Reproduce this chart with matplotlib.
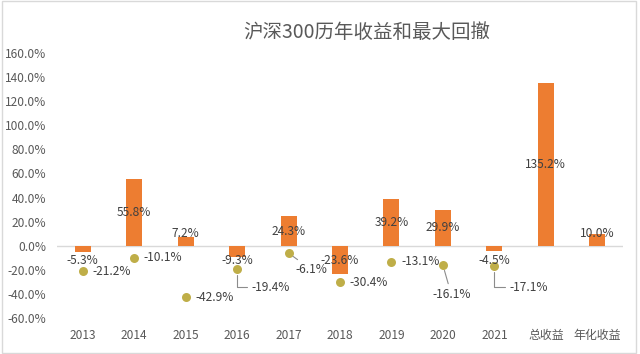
import matplotlib
matplotlib.use("Agg")
import matplotlib.pyplot as plt
from matplotlib.patches import Rectangle
import numpy as np

plt.rcParams['font.family'] = ['Noto Sans CJK SC', 'DejaVu Sans']

categories = ['2013', '2014', '2015', '2016', '2017', '2018', '2019', '2020', '2021', '总收益', '年化收益']
returns = [-5.3, 55.8, 7.2, -9.3, 24.3, -23.6, 39.2, 29.9, -4.5, 135.2, 10.0]
drawdowns = [-21.2, -10.1, -42.9, -19.4, -6.1, -30.4, -13.1, -16.1, -17.1]
yticks = [-60, -40, -20, 0, 20, 40, 60, 80, 100, 120, 140, 160]

bar_color = '#ED7D31'
dot_color = '#BFAE48'
text_color = '#404040'
tick_color = '#595959'

fig = plt.figure(figsize=(6.4, 3.54), dpi=100)
fig.patch.set_facecolor('white')
fig.add_artist(Rectangle((0.003, 0.004), 0.990, 0.992, transform=fig.transFigure,
                         fill=False, edgecolor='#D9D9D9', linewidth=1.0))

ax = fig.add_axes([57/640, (354-318)/354, (623-57)/640, (318-53)/354])
x = np.arange(len(categories))
ax.bar(x, returns, width=0.31, color=bar_color, zorder=2)
ax.axhline(0, color='#D9D9D9', linewidth=1.0, zorder=1)

# bar labels
for xi, v in zip(x, returns):
    pos = max(v / 2, 10.5) if v >= 0 else -12.5
    ax.text(xi, pos, f'{v:.1f}%', ha='center', va='center', fontsize=8.6,
            color=text_color, zorder=4)

# drawdown dots
xd = x[:len(drawdowns)]
ax.scatter(xd, drawdowns, s=42, color=dot_color, zorder=3, linewidths=0)

# label offsets in points (dx, dy, ha, leader)
offsets = {
    3: (10, -13, 'left', 'angle'),
    4: (5, -12, 'left', 'line'),
    7: (6, -21, 'center', 'line'),
    8: (11, -15, 'left', 'angle'),
}
for i, (xi, v) in enumerate(zip(xd, drawdowns)):
    lab = f'{v:.1f}%'
    if i in offsets:
        dx, dy, ha, kind = offsets[i]
        if kind == 'angle':
            arrow = dict(arrowstyle='-', color='#8C8C8C', lw=0.8, shrinkA=1, shrinkB=4,
                         connectionstyle='angle,angleA=0,angleB=90,rad=0')
        else:
            arrow = dict(arrowstyle='-', color='#8C8C8C', lw=0.8, shrinkA=1, shrinkB=4)
        ax.annotate(lab, xy=(xi, v), xytext=(dx, dy), textcoords='offset points',
                    ha=ha, va='center', fontsize=8.6, color=text_color,
                    arrowprops=arrow, zorder=4)
    else:
        ax.annotate(lab, xy=(xi, v), xytext=(7, 0), textcoords='offset points',
                    ha='left', va='center', fontsize=8.6, color=text_color, zorder=4)

ax.set_xlim(-0.5, len(categories) - 0.5)
ax.set_ylim(-60, 160)
ax.set_yticks(yticks)
ax.set_yticklabels([f'{t:.1f}%' for t in yticks])
ax.set_xticks(x)
ax.set_xticklabels(categories)
ax.tick_params(axis='both', length=0, labelsize=8.6, colors=tick_color)
ax.tick_params(axis='x', pad=8)
ax.tick_params(axis='y', pad=8)
for s in ax.spines.values():
    s.set_visible(False)
ax.set_facecolor('none')

fig.text(367/640, 1 - 32/354, '沪深300历年收益和最大回撤', ha='center', va='center',
         fontsize=14, color=tick_color)

fig.savefig('out.png', dpi=100, facecolor='white')
